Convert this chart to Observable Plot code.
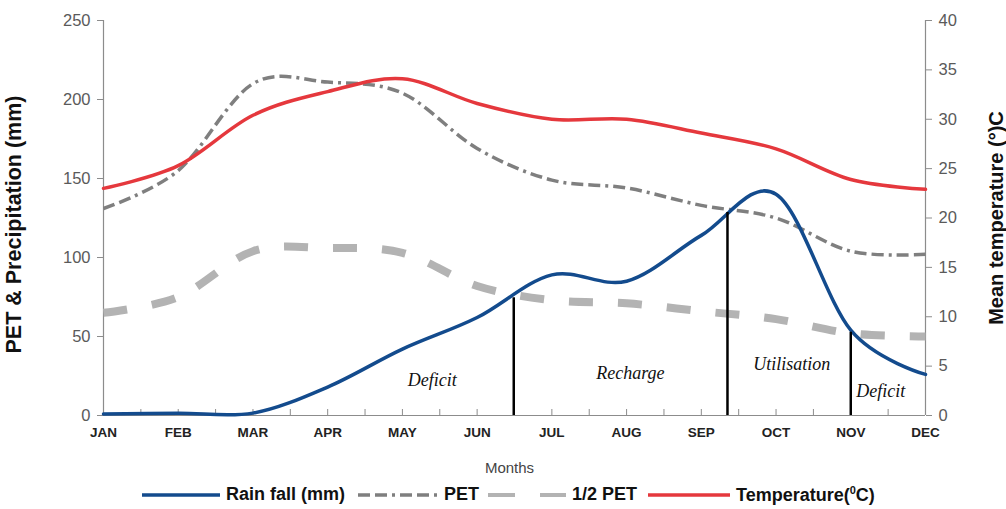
<!DOCTYPE html>
<html>
<head>
<meta charset="utf-8">
<script src="https://cdn.jsdelivr.net/npm/d3@7"></script>
<script src="https://cdn.jsdelivr.net/npm/@observablehq/plot@0.6"></script>
<style>
  body { margin: 0; background: #fff; font-family: "Liberation Sans", Arial, sans-serif; }
  #chart svg { display: block; }
  #legend { position: relative; width: 1006px; height: 29px; }
  #legend .item { position: absolute; top: 0; height: 29px; display: flex; align-items: center; }
  #legend .lbl { font-weight: bold; font-size: 18px; color: #111; white-space: nowrap; }
  #legend svg { display: block; }
</style>
</head>
<body>
<div id="chart"></div>
<div id="legend"></div>
<script>
// ---- Data ----
const months = ["JAN", "FEB", "MAR", "APR", "MAY", "JUN", "JUL", "AUG", "SEP", "OCT", "NOV", "DEC"];
const rainfall = [1, 1.5, 1.5, 18, 42, 62, 89, 85, 114, 140, 54, 26];      // mm
const pet = [131, 155, 210, 211, 204, 169, 149, 144, 133, 125, 104, 102];   // mm
const halfPet = [65, 75, 104, 106, 103, 82, 73, 71, 66, 61, 52, 50];        // mm
const temperature = [23.0, 25.3, 30.4, 32.8, 34.1, 31.6, 30.0, 30.0, 28.6, 27.0, 23.9, 22.9]; // °C
const leftTicks = [0, 50, 100, 150, 200, 250];
const rightTicks = [0, 5, 10, 15, 20, 25, 30, 35, 40];
const halfMonthTicks = d3.range(0, 11.01, 0.5);
const boundaryMonth = [5.49, 8.35, 10.0];
const boundaryValue = [74.5, 128.5, 52.7];
const phaseLabels = ["Deficit", "Recharge", "Utilisation", "Deficit"];
const phaseMonth = [4.40, 7.05, 9.21, 10.40];
const phaseValue = [22.2, 26.6, 32.3, 15.2];

const leftMax = 250, rightMax = 40;
const K = leftMax / rightMax;

const rows = months.map((m, i) => ({i, rain: rainfall[i], pet: pet[i], half: halfPet[i], temp: temperature[i]}));
const boundaries = boundaryMonth.map((m, i) => ({m, v: boundaryValue[i]}));
const phases = phaseLabels.map((t, i) => ({t, m: phaseMonth[i], v: phaseValue[i]}));

const smooth = {curve: "cardinal", tension: 0};
const axisGray = "#8c8c8c";
const COLORS = {rain: "#134b8d", pet: "#7f7f7f", half: "#b3b3b3", temp: "#e5383d"};
const DASH = {pet: "12,5,12,5,3,5", half: "24,25"};

const chart = Plot.plot({
  width: 1006,
  height: 480,
  marginLeft: 103,
  marginRight: 81,
  marginTop: 20,
  marginBottom: 65,
  style: {fontFamily: "Liberation Sans, Arial, sans-serif", background: "white", overflow: "visible"},
  x: {domain: [0, 11]},
  y: {domain: [0, leftMax]},
  marks: [
    // axis lines
    Plot.ruleX([0], {stroke: axisGray, strokeWidth: 1.2}),
    Plot.ruleX([11], {stroke: axisGray, strokeWidth: 1.2}),
    Plot.ruleY([0], {stroke: axisGray, strokeWidth: 1.2}),
    // left axis
    Plot.axisY({anchor: "left", ticks: leftTicks, tickSize: 6, stroke: axisGray, fill: "none", label: null}),
    Plot.axisY({anchor: "left", ticks: leftTicks, tickSize: 0, tickPadding: 13, fontSize: 16.5, fill: "#5a5a5a", label: null}),
    // right axis (temperature)
    Plot.axisY({anchor: "right", ticks: rightTicks.map(t => t * K), tickSize: 6, stroke: axisGray, fill: "none", label: null}),
    Plot.axisY({anchor: "right", ticks: rightTicks.map(t => t * K), tickFormat: d => Math.round(d / K), tickSize: 0, tickPadding: 13, fontSize: 16.5, fill: "#5a5a5a", label: null}),
    // x axis
    Plot.axisX({ticks: halfMonthTicks, tickSize: -6, stroke: axisGray, fill: "none", label: null}),
    Plot.axisX({ticks: d3.range(12), tickFormat: i => months[i], tickSize: 0, tickPadding: 12, fontSize: 13.5, fontWeight: "bold", fill: "#222", label: null}),
    // series
    Plot.line(rows, {x: "i", y: "half", stroke: COLORS.half, strokeWidth: 8, strokeDasharray: DASH.half, strokeLinecap: "butt", ...smooth}),
    Plot.line(rows, {x: "i", y: "pet", stroke: COLORS.pet, strokeWidth: 3.5, strokeDasharray: DASH.pet, strokeLinecap: "butt", ...smooth}),
    Plot.line(rows, {x: "i", y: d => d.temp * K, stroke: COLORS.temp, strokeWidth: 3.5, ...smooth}),
    Plot.line(rows, {x: "i", y: "rain", stroke: COLORS.rain, strokeWidth: 3.5, ...smooth}),
    // phase boundaries
    Plot.ruleX(boundaries, {x: "m", y1: 0, y2: "v", stroke: "#000", strokeWidth: 2.5}),
    Plot.text(phases, {x: "m", y: "v", text: "t", fontFamily: "Liberation Serif, Times New Roman, serif", fontStyle: "italic", fontSize: 18, fill: "#111"}),
    // axis titles
    Plot.text(["PET & Precipitation (mm)"], {frameAnchor: "left", textAnchor: "middle", lineAnchor: "middle", rotate: -90, dx: -89, dy: 6.5, fontSize: 21.5, fontWeight: "bold", fill: "#111"}),
    Plot.text(["Mean temperature (°)C"], {frameAnchor: "right", textAnchor: "middle", lineAnchor: "middle", rotate: -90, dx: 71.5, dy: 0, fontSize: 20, fontWeight: "bold", fill: "#111"}),
    Plot.text(["Months"], {frameAnchor: "bottom", dy: 57, dx: -5, fontSize: 15, fill: "#444"})
  ]
});
document.getElementById("chart").appendChild(chart);

// ---- Legend (HTML below the SVG) ----
const legendItems = [
  {label: "Rain fall (mm)", color: COLORS.rain, width: 3.5, dash: null, x: 142, len: 78},
  {label: "PET", color: COLORS.pet, width: 3.5, dash: DASH.pet, x: 358, len: 80},
  {label: "1/2 PET", color: COLORS.half, width: 4, dash: "27,25", x: 488, len: 78},
  {label: "Temperature(<sup style='font-size:11px;vertical-align:7px'>0</sup>C)", color: COLORS.temp, width: 3.5, dash: null, x: 648, len: 82}
];
const legend = document.getElementById("legend");
for (const it of legendItems) {
  const div = document.createElement("div");
  div.className = "item";
  div.style.left = it.x + "px";
  div.innerHTML = `<svg width="${it.len}" height="12"><line x1="0" x2="${it.len}" y1="6" y2="6" stroke="${it.color}" stroke-width="${it.width}" ${it.dash ? `stroke-dasharray="${it.dash}"` : ""}/></svg><span class="lbl" style="margin-left:6px">${it.label}</span>`;
  legend.appendChild(div);
}
</script>
</body>
</html>
